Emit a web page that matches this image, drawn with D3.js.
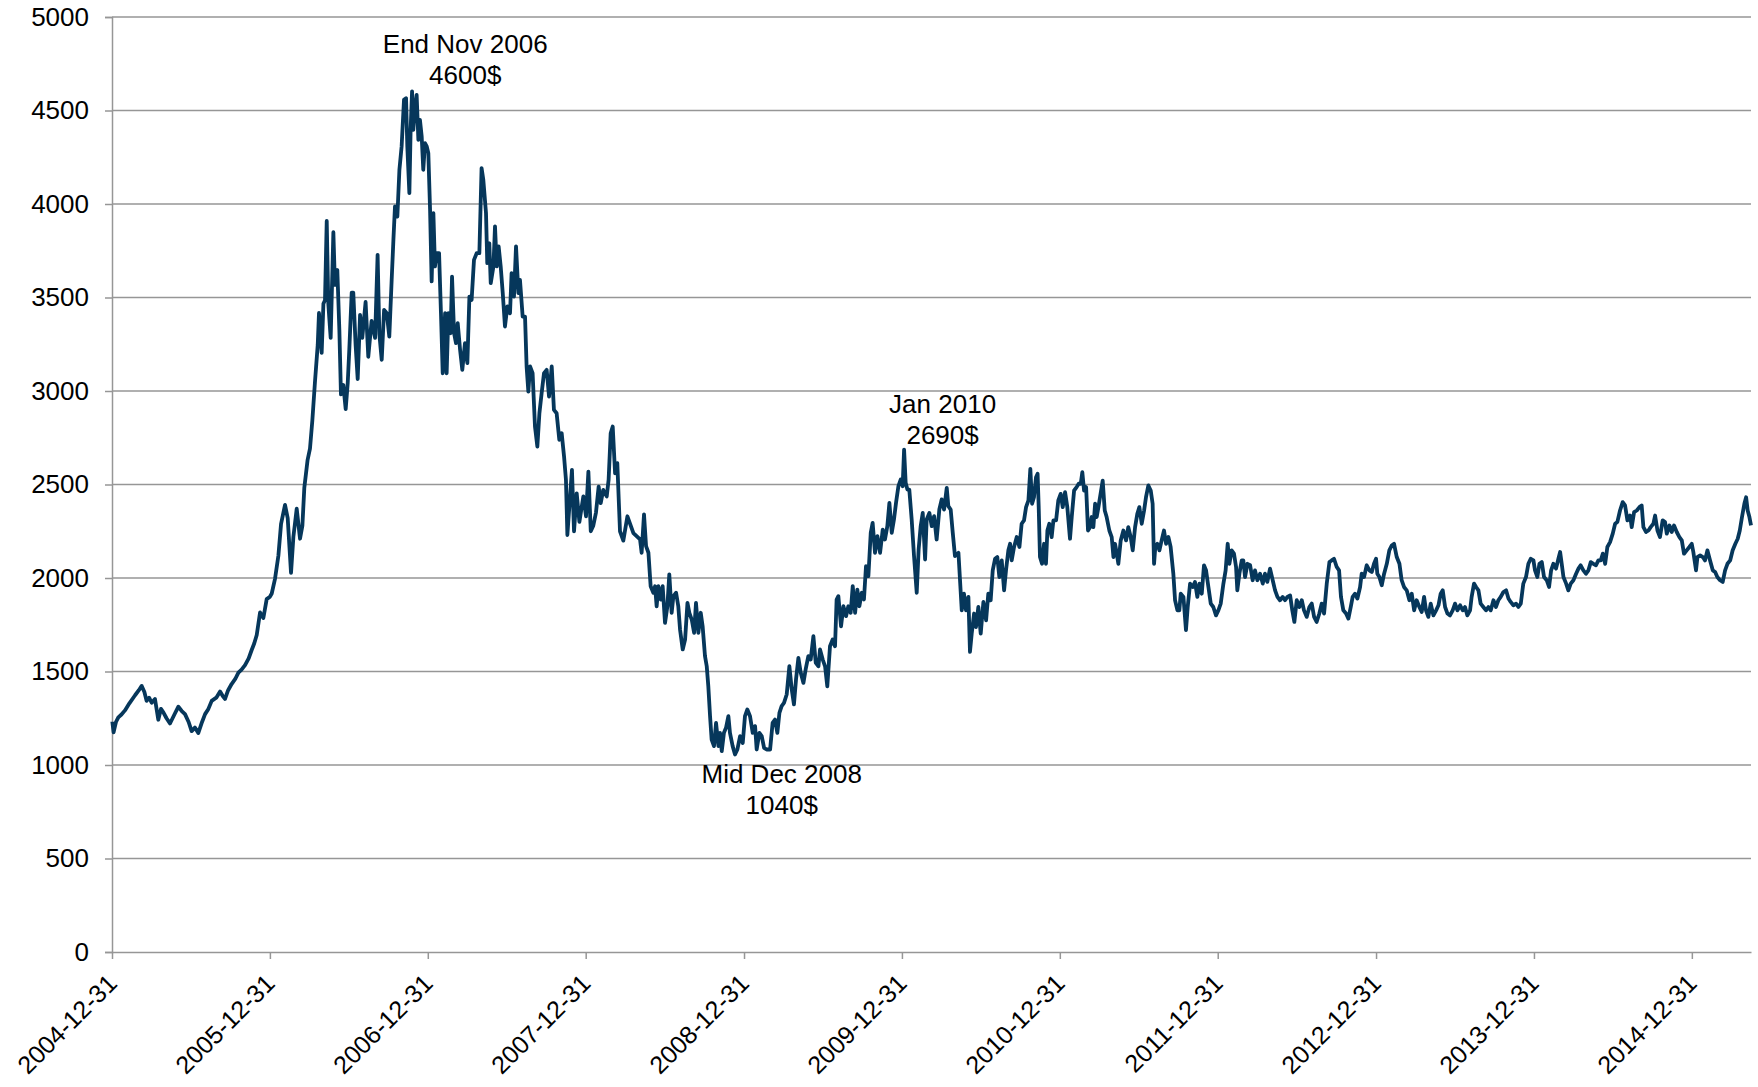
<!DOCTYPE html>
<html lang="en">
	<head>
		<meta charset="utf-8">
		<title>D3: Price history 2005-2015</title>
		<script type="text/javascript" src="https://cdn.jsdelivr.net/npm/d3@7"></script>
		<style type="text/css">
			body { margin: 0; background: #fff; }
			text { font-family: "Liberation Sans", Arial, sans-serif; fill: #000; }
		</style>
	</head>
	<body>
		<script type="text/javascript">

			//Data: [years after 2004-12-31, price in $]
			var rally2005 = [[0.002,1232],[0.010,1175],[0.025,1230],[0.040,1255],[0.060,1270],[0.082,1292],[0.110,1330],[0.146,1373],[0.170,1400],[0.188,1423],[0.205,1390],[0.219,1343],[0.235,1360],[0.251,1333],[0.272,1353],[0.293,1242],[0.310,1300],[0.325,1282],[0.345,1250],[0.367,1222],[0.395,1270],[0.420,1312],[0.440,1290],[0.462,1272],[0.485,1230],[0.504,1181],[0.525,1200],[0.546,1171],[0.570,1230],[0.589,1272],[0.610,1300],[0.631,1343],[0.660,1360],[0.684,1393],[0.700,1370],[0.715,1353],[0.735,1400],[0.757,1433],[0.780,1460],[0.800,1494],[0.820,1510],[0.842,1534],[0.865,1570],[0.884,1615],[0.900,1650],[0.916,1695],[0.937,1816],[0.958,1786],[0.979,1887],[1.000,1900],[1.011,1917],[1.032,1997]];
			var boom2006 = [[1.053,2119],[1.070,2290],[1.095,2391],[1.112,2320],[1.133,2028],[1.148,2220],[1.169,2371],[1.190,2210],[1.205,2280],[1.217,2481],[1.238,2632],[1.253,2692],[1.268,2843],[1.285,3054],[1.302,3246],[1.310,3417],[1.327,3204],[1.338,3466],[1.348,3486],[1.359,3909],[1.369,3466],[1.384,3284],[1.401,3849],[1.411,3567],[1.426,3647],[1.439,3325],[1.449,2982],[1.464,3032],[1.479,2903],[1.492,3044],[1.502,3224],[1.517,3526],[1.527,3526],[1.542,3244],[1.555,3064],[1.570,3407],[1.584,3284],[1.605,3476],[1.622,3183],[1.643,3375],[1.665,3284],[1.681,3728],[1.692,3305]];
			var peak2006 = [[1.707,3167],[1.722,3434],[1.739,3416],[1.755,3291],[1.770,3594],[1.781,3808],[1.791,3987],[1.806,3933],[1.819,4183],[1.833,4308],[1.848,4557],[1.861,4566],[1.869,4308],[1.882,4058],[1.890,4397],[1.899,4602],[1.907,4397],[1.918,4521],[1.928,4584],[1.939,4343],[1.949,4450],[1.960,4361],[1.970,4183],[1.981,4325],[1.992,4308],[2.002,4272],[2.013,3969],[2.023,3586],[2.034,3951],[2.044,3666],[2.055,3737],[2.070,3737],[2.082,3416],[2.093,3095],[2.108,3416],[2.118,3095],[2.129,3416],[2.143,3309],[2.152,3612],[2.165,3309],[2.177,3256],[2.188,3363],[2.203,3220],[2.217,3113],[2.234,3256],[2.249,3149],[2.262,3505],[2.276,3487],[2.291,3701],[2.308,3737],[2.325,3737],[2.339,4192],[2.350,4129],[2.367,3951],[2.375,3684],[2.388,3790],[2.397,3577],[2.414,3666],[2.424,3880],[2.435,3666],[2.447,3773],[2.460,3666],[2.473,3523],[2.487,3345],[2.502,3452],[2.519,3416],[2.529,3630],[2.544,3505],[2.557,3773],[2.572,3523],[2.582,3594],[2.599,3398],[2.614,3398]];
			var slide2007 = [[2.624,3131],[2.635,2997],[2.646,3131],[2.662,3095],[2.677,2810],[2.692,2703],[2.705,2881],[2.719,2988],[2.734,3095],[2.751,3113],[2.766,2970],[2.783,3131],[2.797,2899],[2.814,2881],[2.831,2739],[2.846,2774],[2.861,2650],[2.873,2525],[2.882,2230],[2.899,2436],[2.911,2578],[2.924,2250],[2.941,2453],[2.958,2300],[2.983,2436],[3.000,2330],[3.015,2569],[3.030,2250],[3.046,2280],[3.063,2350],[3.080,2489],[3.093,2400],[3.109,2471],[3.131,2436],[3.143,2525],[3.156,2774],[3.169,2810],[3.184,2560],[3.198,2614],[3.215,2250],[3.236,2200],[3.262,2330],[3.300,2240],[3.342,2206],[3.352,2135],[3.367,2340],[3.380,2170],[3.395,2135],[3.409,1956],[3.426,1921],[3.437,1956],[3.447,1849],[3.458,1956],[3.473,1885],[3.485,1956],[3.500,1760],[3.515,1849],[3.527,2019],[3.542,1814],[3.553,1903],[3.570,1921],[3.584,1849],[3.595,1725],[3.612,1618],[3.627,1671],[3.642,1867],[3.654,1814],[3.669,1778],[3.684,1707],[3.696,1867],[3.711,1707],[3.726,1814],[3.738,1742],[3.753,1582],[3.764,1528],[3.774,1421],[3.785,1261]];
			var trough2008 = [[3.795,1136],[3.810,1101],[3.823,1225],[3.838,1101],[3.848,1172],[3.859,1074],[3.873,1172],[3.886,1199],[3.901,1261],[3.911,1172],[3.928,1101],[3.943,1056],[3.958,1083],[3.975,1154],[3.992,1118],[4.006,1261],[4.021,1297],[4.038,1261],[4.055,1172],[4.070,1208],[4.080,1083],[4.097,1172],[4.112,1154],[4.127,1092],[4.143,1083],[4.165,1083],[4.181,1225],[4.196,1243],[4.211,1172],[4.224,1279],[4.238,1315],[4.253,1332],[4.270,1377],[4.287,1528],[4.302,1404],[4.316,1324],[4.329,1457],[4.344,1573],[4.359,1493],[4.376,1439],[4.390,1511],[4.407,1582],[4.422,1564],[4.439,1689],[4.454,1546],[4.471,1528],[4.481,1618],[4.498,1564],[4.513,1528],[4.527,1421],[4.544,1635],[4.561,1671],[4.576,1635],[4.586,1885],[4.597,1903],[4.614,1742],[4.629,1849],[4.646,1796],[4.660,1849],[4.675,1814],[4.688,1956],[4.703,1814],[4.717,1938],[4.730,1849],[4.745,1921],[4.759,1885],[4.772,2063],[4.787,2010],[4.802,2242],[4.814,2295],[4.829,2135],[4.844,2224],[4.861,2135],[4.878,2259],[4.892,2206],[4.907,2277],[4.920,2402],[4.935,2242],[4.949,2313],[4.962,2402],[4.977,2491],[4.992,2527],[5.004,2491],[5.013,2687],[5.023,2509],[5.034,2473],[5.046,2473],[5.061,2313],[5.076,2117],[5.093,1921],[5.105,2152],[5.118,2277],[5.131,2348],[5.146,2099],[5.156,2313],[5.173,2348],[5.188,2277],[5.203,2331],[5.219,2206],[5.236,2366],[5.251,2420],[5.266,2366],[5.283,2482],[5.293,2384],[5.308,2366],[5.321,2242],[5.335,2117],[5.357,2135]];
			var range2010 = [[5.378,1827],[5.392,1916],[5.405,1827],[5.420,1899],[5.430,1605],[5.441,1703],[5.456,1810],[5.468,1738],[5.483,1845],[5.498,1703],[5.515,1872],[5.532,1774],[5.546,1916],[5.561,1881],[5.574,2041],[5.589,2103],[5.603,2112],[5.616,2005],[5.631,2094],[5.646,1934],[5.658,2041],[5.673,2148],[5.684,2183],[5.694,2094],[5.709,2166],[5.726,2219],[5.743,2166],[5.757,2290],[5.772,2308],[5.785,2379],[5.800,2415],[5.812,2584],[5.823,2397],[5.835,2432],[5.848,2539],[5.858,2557],[5.865,2379],[5.873,2112],[5.886,2076],[5.899,2183],[5.911,2076],[5.920,2254],[5.932,2290],[5.947,2219],[5.958,2308],[5.975,2308],[5.989,2415],[6.004,2450],[6.017,2379],[6.032,2459],[6.046,2379],[6.063,2210],[6.074,2326],[6.089,2468],[6.105,2486],[6.118,2504],[6.131,2504],[6.141,2566],[6.152,2468],[6.165,2486],[6.177,2254],[6.190,2272],[6.200,2326],[6.211,2272],[6.222,2397],[6.232,2326],[6.243,2379],[6.253,2432],[6.270,2521],[6.283,2361],[6.295,2326],[6.312,2254],[6.327,2219],[6.338,2112],[6.348,2183],[6.359,2130],[6.369,2076],[6.384,2201],[6.401,2254],[6.418,2201],[6.432,2272],[6.447,2219],[6.460,2148],[6.475,2272],[6.489,2343],[6.502,2379],[6.517,2290],[6.532,2361],[6.544,2432],[6.559,2495],[6.574,2468],[6.586,2397],[6.595,2076],[6.603,2166],[6.616,2183],[6.629,2148],[6.643,2201],[6.658,2254],[6.671,2183],[6.686,2219],[6.700,2166],[6.717,2023],[6.728,1881],[6.743,1827],[6.755,1827],[6.764,1916],[6.781,1899],[6.797,1721],[6.808,1845],[6.823,1970],[6.840,1952],[6.854,1979],[6.869,1899],[6.882,1970],[6.897,1916],[6.911,2068],[6.924,2041],[6.939,1952],[6.954,1863],[6.970,1845],[6.987,1800]];
			var range2012 = [[7.002,1827],[7.017,1863],[7.034,1970],[7.048,2041],[7.061,2183],[7.072,2076],[7.086,2148],[7.101,2130],[7.114,2059],[7.122,1934],[7.135,2023],[7.150,2094],[7.160,2094],[7.171,2005],[7.186,2076],[7.203,2068],[7.219,1988],[7.234,2041],[7.249,1988],[7.266,2023],[7.283,1970],[7.297,2023],[7.312,1979],[7.329,2050],[7.346,1988],[7.361,1934],[7.376,1899],[7.392,1881],[7.409,1899],[7.424,1881],[7.439,1899],[7.456,1907],[7.470,1827],[7.483,1765],[7.498,1881],[7.515,1845],[7.530,1881],[7.544,1827],[7.561,1792],[7.578,1845],[7.593,1863],[7.608,1792],[7.624,1765],[7.641,1810],[7.656,1863],[7.671,1810],[7.688,1970],[7.705,2085],[7.719,2094],[7.734,2103],[7.751,2059],[7.766,2041],[7.778,1899],[7.793,1827],[7.810,1810],[7.825,1783],[7.840,1845],[7.852,1899],[7.867,1916],[7.882,1890],[7.899,1952],[7.909,2023],[7.924,2005],[7.941,2068],[7.958,2041],[7.973,2032],[7.987,2076],[8.000,2103],[8.008,2023],[8.021,2005],[8.036,1961],[8.051,2023],[8.068,2076],[8.084,2148],[8.099,2174],[8.114,2183],[8.131,2112],[8.148,2076],[8.162,1988],[8.177,1952],[8.194,1934],[8.211,1881],[8.226,1916],[8.241,1827],[8.257,1881],[8.274,1845],[8.289,1818],[8.304,1899],[8.316,1827],[8.331,1792],[8.346,1863],[8.363,1800],[8.380,1827],[8.395,1854],[8.409,1916],[8.422,1934],[8.437,1845],[8.452,1810],[8.468,1800],[8.485,1827],[8.500,1863],[8.515,1827],[8.532,1854],[8.549,1827],[8.563,1845],[8.578,1800],[8.595,1827],[8.605,1899],[8.620,1970],[8.633,1952],[8.648,1934],[8.662,1863],[8.679,1845],[8.696,1827],[8.711,1845],[8.726,1827],[8.743,1881],[8.759,1845],[8.774,1881],[8.789,1899],[8.806,1925],[8.823,1934],[8.838,1890],[8.852,1872],[8.869,1854],[8.886,1863],[8.901,1845],[8.916,1863]];
			var range2014 = [[8.932,1970],[8.949,2005],[8.964,2076],[8.979,2103],[8.996,2094],[9.006,2041],[9.021,2005],[9.034,2076],[9.049,2085],[9.063,2005],[9.080,1988],[9.095,1952],[9.108,2041],[9.122,2076],[9.139,2050],[9.154,2103],[9.165,2139],[9.175,2076],[9.186,2005],[9.203,1970],[9.217,1934],[9.232,1970],[9.249,1988],[9.266,2023],[9.281,2050],[9.295,2068],[9.312,2041],[9.329,2023],[9.344,2041],[9.359,2085],[9.376,2076],[9.392,2068],[9.407,2094],[9.422,2094],[9.435,2130],[9.450,2076],[9.464,2166],[9.481,2192],[9.498,2237],[9.513,2290],[9.527,2299],[9.544,2361],[9.561,2406],[9.576,2388],[9.591,2308],[9.608,2334],[9.618,2272],[9.633,2352],[9.650,2361],[9.667,2379],[9.681,2388],[9.692,2272],[9.709,2246],[9.724,2254],[9.738,2272],[9.755,2290],[9.766,2334],[9.781,2254],[9.797,2219],[9.814,2308],[9.829,2299],[9.840,2237],[9.857,2281],[9.871,2246],[9.886,2281],[9.903,2246],[9.920,2219],[9.935,2201],[9.949,2130],[9.966,2148],[9.983,2166],[9.998,2183],[10.008,2139],[10.025,2041],[10.034,2112],[10.051,2121],[10.068,2112],[10.082,2094],[10.097,2148],[10.114,2094],[10.131,2041],[10.146,2032],[10.160,2005],[10.177,1988],[10.194,1979],[10.209,2041],[10.224,2076],[10.241,2094],[10.257,2148],[10.274,2183],[10.289,2210],[10.302,2254],[10.316,2326],[10.331,2397],[10.342,2432],[10.352,2361],[10.363,2326],[10.373,2281]];

			var yTicks = [0, 500, 1000, 1500, 2000, 2500, 3000, 3500, 4000, 4500, 5000];
			var tickYears = [2004, 2005, 2006, 2007, 2008, 2009, 2010, 2011, 2012, 2013, 2014];

			//Callouts: where they point (t, value) and how the text sits from there
			var notes = [
				{ t: 1.90, v: 4600, dx: 53, dy: -39, lines: ["End Nov 2006", "4600$"] },
				{ t: 3.96, v: 1040, dx: 44, dy: 25, lines: ["Mid Dec 2008", "1040$"] },
				{ t: 5.01, v: 2690, dx: 39, dy: -36, lines: ["Jan 2010", "2690$"] }
			];

			//Width and height
			var w = 1758;
			var h = 1087;
			var margin = { top: 17, right: 7, bottom: 135, left: 112 };
			var grey = "#969696";

			var start = new Date(2004, 11, 31);
			function toDate(t) {
				return new Date(start.getTime() + t * 365.25 * 864e5);
			}

			var dataset = [].concat(rally2005, boom2006, peak2006, slide2007, trough2008, range2010, range2012, range2014)
				.map(function(d) { return { date: toDate(d[0]), value: d[1] }; });

			var xScale = d3.scaleTime()
				.domain([start, dataset[dataset.length - 1].date])
				.range([margin.left, w - margin.right]);

			var yScale = d3.scaleLinear()
				.domain([0, 5000])
				.range([h - margin.bottom, margin.top]);

			//Create SVG element
			var svg = d3.select("body")
						.append("svg")
						.attr("width", w)
						.attr("height", h);

			//Gridlines
			svg.append("g")
			   .selectAll("line")
			   .data(yTicks.slice(1))
			   .enter()
			   .append("line")
			   .attr("x1", margin.left)
			   .attr("x2", w - margin.right)
			   .attr("y1", function(d) { return yScale(d); })
			   .attr("y2", function(d) { return yScale(d); })
			   .attr("stroke", grey)
			   .attr("stroke-width", 1.5);

			//Y axis
			var yAxis = d3.axisLeft(yScale)
				.tickValues(yTicks)
				.tickSize(7)
				.tickPadding(16)
				.tickFormat(d3.format("d"));

			var gy = svg.append("g")
				.attr("transform", "translate(" + margin.left + ",0)")
				.call(yAxis);
			gy.select(".domain").attr("stroke", grey).attr("stroke-width", 1.5);
			gy.selectAll(".tick line").attr("stroke", grey).attr("stroke-width", 1.5);
			gy.selectAll(".tick text")
			  .style("font-size", "26px")
			  .style("font-family", "'Liberation Sans', Arial, sans-serif")
			  .attr("fill", "#000");

			//X axis
			var xAxis = d3.axisBottom(xScale)
				.tickValues(tickYears.map(function(y) { return new Date(y, 11, 31); }))
				.tickSize(7)
				.tickSizeOuter(0)
				.tickFormat(d3.timeFormat("%Y-%m-%d"));

			var gx = svg.append("g")
				.attr("transform", "translate(0," + (h - margin.bottom) + ")")
				.call(xAxis);
			gx.select(".domain").attr("stroke", grey).attr("stroke-width", 1.5);
			gx.selectAll(".tick line").attr("stroke", grey).attr("stroke-width", 1.5);
			gx.selectAll(".tick text")
			  .style("font-size", "25px")
			  .style("font-family", "'Liberation Sans', Arial, sans-serif")
			  .attr("fill", "#000")
			  .attr("text-anchor", "end")
			  .attr("dy", null)
			  .attr("y", null)
			  .attr("transform", "translate(6,33) rotate(-45)");

			//Price line
			var line = d3.line()
				.x(function(d) { return xScale(d.date); })
				.y(function(d) { return yScale(d.value); });

			svg.append("path")
			   .datum(dataset)
			   .attr("d", line)
			   .attr("fill", "none")
			   .attr("stroke", "#06375b")
			   .attr("stroke-width", 3.8)
			   .attr("stroke-linejoin", "round");

			//Annotations
			var note = svg.selectAll("text.note")
			   .data(notes)
			   .enter()
			   .append("text")
			   .attr("class", "note")
			   .attr("text-anchor", "middle")
			   .style("font-size", "26px")
			   .attr("y", function(d) { return yScale(d.v) + d.dy; });

			note.selectAll("tspan")
			   .data(function(d) {
			   		var x = xScale(toDate(d.t)) + d.dx;
			   		return d.lines.map(function(s, i) { return { s: s, i: i, x: x }; });
			   })
			   .enter()
			   .append("tspan")
			   .attr("x", function(d) { return d.x; })
			   .attr("dy", function(d) { return d.i === 0 ? 0 : 31; })
			   .text(function(d) { return d.s; });

		</script>
	</body>
</html>
